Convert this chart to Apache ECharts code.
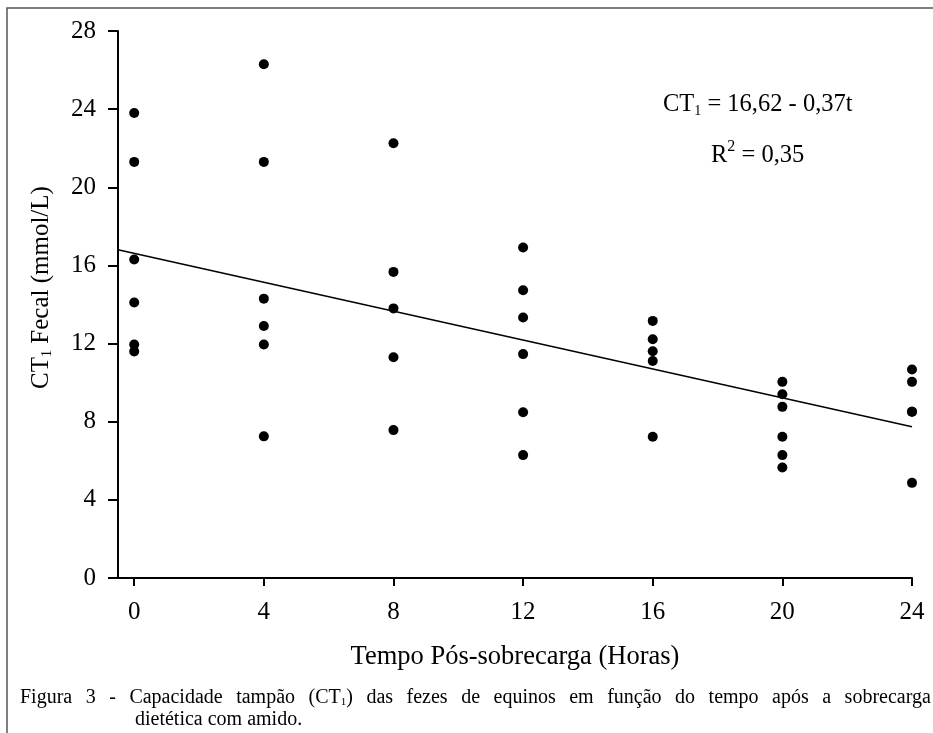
<!DOCTYPE html>
<html>
<head>
<meta charset="utf-8">
<script src="https://cdn.jsdelivr.net/npm/echarts@6/dist/echarts.min.js"></script>
<style>
  html, body { margin: 0; padding: 0; background: #fff; }
  #chart { width: 933px; height: 733px; }
</style>
</head>
<body>
<div id="chart"></div>
<script>
// horas após a sobrecarga e valores de CT1
const hours = [0, 4, 8, 12, 16, 20, 24];
const ct0 = [23.8, 21.3, 16.3, 14.1, 11.95, 11.6];
const ct4 = [26.3, 21.3, 14.3, 12.9, 11.95, 7.25];
const ct8 = [22.25, 15.67, 13.8, 11.3, 7.57];
const ct12 = [16.92, 14.73, 13.33, 11.46, 8.48, 6.29];
const ct16 = [13.16, 12.22, 11.61, 11.11, 7.23];
const ct20 = [10.04, 9.41, 8.76, 7.23, 6.29, 5.66];
const ct24 = [10.67, 10.04, 8.51, 8.51, 4.87];

// regressão: CT1 = 16,62 - 0,37t
const intercept = 16.62;
const slope = -0.37;
const xMin = -0.5;
const xMax = 24;

const groups = [ct0, ct4, ct8, ct12, ct16, ct20, ct24];
const points = [];
groups.forEach((vals, i) => vals.forEach(v => points.push([hours[i], v])));

const fitLine = [xMin, xMax].map(t => [t, intercept + slope * t]);

const serif = 'Liberation Serif';

// legenda justificada: espaços mais largos entre as palavras
const captionWords = 'Figura 3 - Capacidade tampão (CT_1) das fezes de equinos em função do tempo após a sobrecarga'.split(' ');
const captionText = captionWords.map(w => {
  if (w.indexOf('_1') >= 0) {
    const parts = w.split('_1');
    return '{n|' + parts[0] + '}{s|1}{n|' + parts[1] + '}';
  }
  return '{n|' + w + '}';
}).join('{w| }');

const chart = echarts.init(document.getElementById('chart'));

chart.setOption({
  backgroundColor: '#fff',
  animation: false,
  textStyle: { fontFamily: serif, color: '#000' },
  grid: { left: 118, right: 21, top: 31, bottom: 155 },
  xAxis: {
    type: 'value',
    min: xMin,
    max: xMax,
    name: 'Tempo Pós-sobrecarga (Horas)',
    nameLocation: 'middle',
    nameGap: 66,
    nameTextStyle: { fontFamily: serif, fontSize: 26.5, color: '#000' },
    axisLine: { lineStyle: { color: '#000', width: 2 } },
    axisTick: { show: true, customValues: hours, length: 8, lineStyle: { color: '#000', width: 2 } },
    axisLabel: { customValues: hours, margin: 22, fontFamily: serif, fontSize: 25, color: '#000' },
    splitLine: { show: false }
  },
  yAxis: {
    type: 'value',
    min: 0,
    max: 28,
    interval: 4,
    name: '{n|CT}{s|1}{n| Fecal (mmol/L)}',
    nameLocation: 'middle',
    nameGap: 64,
    nameTextStyle: {
      padding: [0, 0, 0, 34],
      rich: {
        n: { fontFamily: serif, fontSize: 25, color: '#000' },
        s: { fontFamily: serif, fontSize: 14, color: '#000', padding: [12, 0, 0, 0] }
      }
    },
    axisLine: { show: true, onZero: false, lineStyle: { color: '#000', width: 2 } },
    axisTick: { show: true, length: 10, lineStyle: { color: '#000', width: 2 } },
    axisLabel: { margin: 22, fontFamily: serif, fontSize: 25, color: '#000' },
    splitLine: { show: false }
  },
  graphic: [
    {
      type: 'rect',
      shape: { x: 7, y: 8, width: 960, height: 800 },
      style: { fill: 'none', stroke: '#555', lineWidth: 1.5 },
      silent: true
    },
    {
      type: 'text',
      left: 663,
      top: 92,
      style: {
        text: '{n|CT}{s|1}{n| = 16,62 - 0,37t}',
        rich: {
          n: { fontFamily: serif, fontSize: 24.5, fill: '#000' },
          s: { fontFamily: serif, fontSize: 14, fill: '#000', padding: [14, 0, 0, 0] }
        }
      }
    },
    {
      type: 'text',
      left: 711,
      top: 139,
      style: {
        text: '{n|R}{p|2}{n| = 0,35}',
        rich: {
          n: { fontFamily: serif, fontSize: 24.5, fill: '#000', padding: [9, 0, 0, 0] },
          p: { fontFamily: serif, fontSize: 16, fill: '#000', padding: [0, 0, 9, 0] }
        }
      }
    },
    {
      type: 'text',
      left: 20,
      top: 688,
      style: {
        text: captionText,
        rich: {
          n: { fontFamily: serif, fontSize: 20, fill: '#000' },
          w: { fontFamily: serif, fontSize: 20, width: 13.5 },
          s: { fontFamily: serif, fontSize: 11, fill: '#000', padding: [9, 0, 0, 0] }
        }
      }
    },
    {
      type: 'text',
      left: 135,
      top: 710,
      style: { text: 'dietética com amido.', fontFamily: serif, fontSize: 20, fill: '#000' }
    }
  ],
  series: [
    {
      type: 'line',
      data: fitLine,
      showSymbol: false,
      symbol: 'none',
      lineStyle: { color: '#000', width: 1.5 },
      z: 2
    },
    {
      type: 'scatter',
      data: points,
      symbol: 'circle',
      symbolSize: 10,
      itemStyle: { color: '#000', opacity: 1 },
      z: 3
    }
  ]
});
</script>
</body>
</html>
